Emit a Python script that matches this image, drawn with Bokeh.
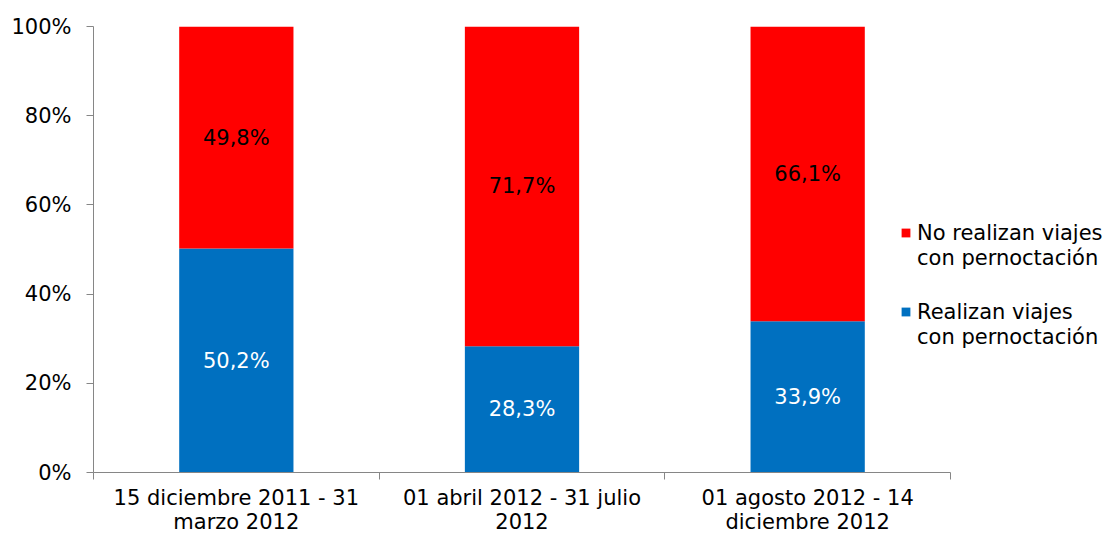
from bokeh.plotting import figure
from bokeh.models import (ColumnDataSource, Range1d, FixedTicker, PrintfTickFormatter,
                          Legend, LegendItem)
from bokeh.core.properties import value
from bokeh.embed import file_html
from bokeh.resources import INLINE

categories = ["15 diciembre 2011 - 31\nmarzo 2012",
              "01 abril 2012 - 31 julio\n2012",
              "01 agosto 2012 - 14\ndiciembre 2012"]
realizan = [50.2, 28.3, 33.9]
no_realizan = [49.8, 71.7, 66.1]
legend_no = ["No realizan viajes", "con pernoctación"]
legend_si = ["Realizan viajes", "con pernoctación"]
y_ticks = [0, 20, 40, 60, 80, 100]

FONT = "DejaVu Sans"
FS = "21px"
AXIS_COLOR = "#868686"
BLUE = "#0070C0"
RED = "#FF0000"

W, H = 1109, 537
LEFT, TOP, BOTTOM = 93, 26, 65
AXIS_RIGHT = 950  # right end of category axis (px)

n = len(categories)
xs = [i + 0.5 for i in range(n)]
src = ColumnDataSource(dict(
    x=xs, realizan=realizan, no_realizan=no_realizan,
    y_r=[v / 2 for v in realizan],
    y_n=[r + v / 2 for r, v in zip(realizan, no_realizan)],
    t_r=[f"{v:.1f}".replace(".", ",") + "%" for v in realizan],
    t_n=[f"{v:.1f}".replace(".", ",") + "%" for v in no_realizan],
))

x_end = n * (W - LEFT) / (AXIS_RIGHT - LEFT)
p = figure(width=W, height=H, output_backend="svg", toolbar_location=None,
           x_range=Range1d(0, x_end), y_range=Range1d(0, 100),
           min_border_left=LEFT, min_border_right=0, min_border_top=TOP,
           min_border_bottom=BOTTOM)
p.outline_line_color = None
p.xgrid.visible = False
p.ygrid.visible = False
p.background_fill_color = "white"
p.border_fill_color = "white"

rs = p.vbar_stack(["realizan", "no_realizan"], x="x", width=0.4, source=src,
                  color=[BLUE, RED], line_color=None)
dummy = p.vbar(x=[], top=[], width=0.4, fill_alpha=0, line_alpha=0)

p.text(x="x", y="y_r", text="t_r", source=src, text_align="center",
       text_baseline="middle", text_color="white", text_font=value(FONT),
       text_font_size=FS)
p.text(x="x", y="y_n", text="t_n", source=src, text_align="center",
       text_baseline="middle", text_color="black", text_font=value(FONT),
       text_font_size=FS)

# y axis
ya = p.yaxis[0]
ya.ticker = FixedTicker(ticks=y_ticks)
ya.formatter = PrintfTickFormatter(format="%d%%")
ya.axis_line_color = AXIS_COLOR
ya.major_tick_line_color = AXIS_COLOR
ya.major_tick_in = 0
ya.major_tick_out = 7
ya.minor_tick_line_color = None
ya.major_label_text_font = FONT
ya.major_label_text_font_size = FS
ya.major_label_text_color = "black"
ya.major_label_standoff = 15

# x axis
xa = p.xaxis[0]
xa.bounds = (0, n)
xa.ticker = FixedTicker(ticks=xs, minor_ticks=list(range(n + 1)))
xa.major_label_overrides = {x: c for x, c in zip(xs, categories)}
xa.axis_line_color = AXIS_COLOR
xa.major_tick_line_color = None
xa.major_tick_in = 0
xa.major_tick_out = 0
xa.minor_tick_line_color = AXIS_COLOR
xa.minor_tick_in = 0
xa.minor_tick_out = 7
xa.major_label_text_font = FONT
xa.major_label_text_font_size = FS
xa.major_label_text_color = "black"
xa.major_label_standoff = 6
xa.axis_label_standoff = 0
xa.major_label_text_line_height = 1.04


def make_legend(lines, renderer, y):
    leg = Legend(items=[LegendItem(label=lines[0], renderers=[renderer]),
                        LegendItem(label=lines[1], renderers=[dummy])],
                 location=(807, y), padding=0, margin=0, spacing=0,
                 glyph_width=11, glyph_height=11, label_standoff=6,
                 label_height=25, label_text_font=FONT, label_text_font_size=FS,
                 label_text_color="black",
                 border_line_color=None, background_fill_alpha=0)
    p.add_layout(leg)


make_legend(legend_no, rs[1], 202)
make_legend(legend_si, rs[0], 123)

open("out.html", "w").write(file_html(p, INLINE))
